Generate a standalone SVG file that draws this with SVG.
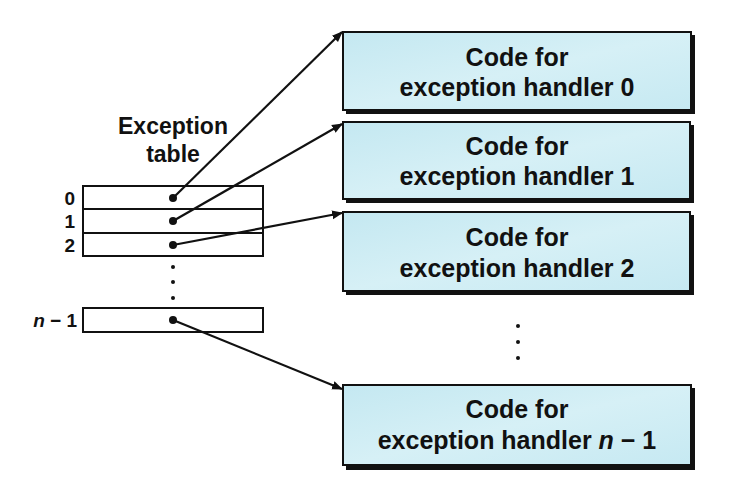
<svg xmlns="http://www.w3.org/2000/svg" width="739" height="490" viewBox="0 0 739 490">
<style>
text{font-family:"Liberation Sans",Arial,sans-serif;fill:#111;font-weight:bold}
.big{font-size:25px;text-anchor:middle}
.lbl{font-size:19px;text-anchor:end}
.cell{fill:#fff;stroke:#111;stroke-width:2}
.shadow{fill:#111}
.box{fill:url(#cy);stroke:#111;stroke-width:2}
.conn{stroke:#111;stroke-width:2.2;fill:none;marker-end:url(#ah)}
.dot{fill:#111}
</style>
<defs>
<linearGradient id="cy" x1="0" y1="0" x2="1" y2="1">
<stop offset="0" stop-color="#c4e8f1"/>
<stop offset="0.5" stop-color="#d6f0f6"/>
<stop offset="1" stop-color="#c6e9f2"/>
</linearGradient>
<marker id="ah" viewBox="0 0 10 10" refX="9" refY="5" markerWidth="11" markerHeight="11" markerUnits="userSpaceOnUse" orient="auto">
<path d="M0,1 L10,5 L0,9 z" fill="#111"/>
</marker>
</defs>
<rect width="739" height="490" fill="#fff"/>

<g id="table">
<text class="big" x="173" y="134" style="font-size:23px">Exception</text>
<text class="big" x="173" y="162" style="font-size:23px">table</text>
<rect class="cell" x="83" y="186" width="180" height="23"/>
<rect class="cell" x="83" y="209" width="180" height="24"/>
<rect class="cell" x="83" y="233" width="180" height="23"/>
<rect class="cell" x="83" y="308" width="180" height="24"/>
<text class="lbl" x="75" y="205">0</text>
<text class="lbl" x="75" y="228">1</text>
<text class="lbl" x="75" y="252">2</text>
<text class="lbl" x="77" y="327"><tspan font-style="italic">n</tspan> − 1</text>
<circle class="dot" cx="173" cy="198" r="4"/>
<circle class="dot" cx="173" cy="221" r="4"/>
<circle class="dot" cx="173" cy="245" r="4"/>
<circle class="dot" cx="173" cy="320" r="4"/>
<circle class="dot" cx="173" cy="267" r="2"/>
<circle class="dot" cx="173" cy="282" r="2"/>
<circle class="dot" cx="173" cy="298" r="2"/>
</g>

<g id="handler0">
<rect class="shadow" x="346" y="35" width="349" height="79"/>
<rect class="box" x="343" y="32" width="348" height="78"/>
<text class="big" x="517" y="66">Code for</text>
<text class="big" x="517" y="96">exception handler 0</text>
</g>
<g id="handler1">
<rect class="shadow" x="346" y="125" width="348" height="78"/>
<rect class="box" x="343" y="122" width="347" height="77"/>
<text class="big" x="517" y="155">Code for</text>
<text class="big" x="517" y="185">exception handler 1</text>
</g>
<g id="handler2">
<rect class="shadow" x="346" y="215" width="348" height="80"/>
<rect class="box" x="343" y="212" width="347" height="79"/>
<text class="big" x="517" y="246">Code for</text>
<text class="big" x="517" y="277">exception handler 2</text>
</g>
<g id="dots">
<circle class="dot" cx="518" cy="326" r="2"/>
<circle class="dot" cx="518" cy="342" r="2"/>
<circle class="dot" cx="518" cy="358" r="2"/>
</g>
<g id="handlerN">
<rect class="shadow" x="346" y="388" width="349" height="82"/>
<rect class="box" x="343" y="385" width="348" height="80"/>
<text class="big" x="517" y="418">Code for</text>
<text class="big" x="517" y="449">exception handler <tspan font-style="italic">n</tspan> − 1</text>
</g>

<g id="connectors">
<line class="conn" x1="173" y1="198" x2="342" y2="32"/>
<line class="conn" x1="173" y1="221" x2="342" y2="124"/>
<line class="conn" x1="173" y1="245" x2="342" y2="213"/>
<line class="conn" x1="173" y1="320" x2="342" y2="389"/>
</g>
</svg>
